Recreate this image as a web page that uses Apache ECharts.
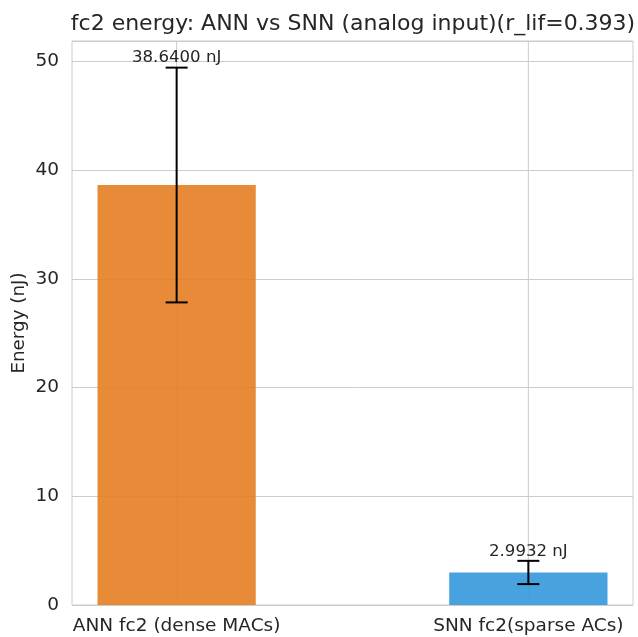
<!DOCTYPE html>
<html>
<head>
<meta charset="utf-8">
<script src="https://cdn.jsdelivr.net/npm/echarts@6/dist/echarts.min.js"></script>
<style>
html,body{margin:0;padding:0;background:#fff;}
#chart{width:638px;height:637px;}
</style>
</head>
<body>
<div id="chart"></div>
<script>
const categories = ['ANN fc2 (dense MACs)', 'SNN fc2(sparse ACs)'];
const energies = [38.64, 2.9932];
const errors = [10.8, 1.07];
const barColors = ['#e67e22', '#3498db'];
const yTicks = [0, 10, 20, 30, 40, 50];

const FONT = 'DejaVu Sans';
const TXT = '#262626';
const GRID = '#cccccc';
const BAR_W = 0.45;

const chart = echarts.init(document.getElementById('chart'), null, {renderer: 'canvas'});

const barData = categories.map((c, i) => [i, energies[i], errors[i]]);

const option = {
  animation: false,
  backgroundColor: '#ffffff',
  title: {
    text: 'fc2 energy: ANN vs SNN (analog input)(r_lif=0.393)',
    left: 348, top: 8, textAlign: 'center',
    textStyle: {fontFamily: FONT, fontSize: 22, fontWeight: 'normal', color: TXT}
  },
  grid: {left: 72, right: 5, top: 41, bottom: 32, show: true, borderColor: GRID, borderWidth: 1,
         containLabel: false, outerBoundsMode: 'none'},
  xAxis: {
    type: 'value', min: -0.2975, max: 1.2975,
    axisLine: {show: false}, axisTick: {show: false},
    splitLine: {show: false},
    axisLabel: {
      customValues: [0, 1],
      formatter: v => categories[Math.round(v)] || '',
      fontFamily: FONT, fontSize: 18.5, color: TXT, margin: 12
    }
  },
  yAxis: {
    type: 'value', min: 0, max: 51.89, interval: 10,
    name: 'Energy (nJ)', nameLocation: 'middle', nameGap: 44, nameMoveOverlap: false,
    nameTextStyle: {fontFamily: FONT, fontSize: 18.3, color: TXT},
    axisLine: {show: false}, axisTick: {show: false},
    splitLine: {show: true, lineStyle: {color: GRID, width: 1}},
    axisLabel: {
      showMaxLabel: false,
      formatter: v => (yTicks.indexOf(v) >= 0 ? String(v) : ''),
      fontFamily: FONT, fontSize: 18.5, color: TXT, margin: 13
    }
  },
  series: [
    {
      type: 'custom',
      silent: true,
      z: 1,
      data: categories.map((c, i) => [i]),
      renderItem: (params, api) => {
        const x = api.coord([api.value(0), 0])[0];
        const yTop = api.coord([0, 51.89])[1];
        const yBot = api.coord([0, 0])[1];
        return {type: 'line', shape: {x1: x, y1: yTop, x2: x, y2: yBot},
                style: {stroke: GRID, lineWidth: 1}};
      }
    },
    {
      type: 'custom',
      z: 2,
      data: barData,
      renderItem: (params, api) => {
        const i = api.value(0);
        const v = api.value(1);
        const e = api.value(2);
        const w = api.size([BAR_W, 0])[0];
        const p0 = api.coord([i, 0]);
        const p1 = api.coord([i, v]);
        const pt = api.coord([i, v + e]);
        const pb = api.coord([i, v - e]);
        const cap = 11;
        return {
          type: 'group',
          children: [
            {type: 'rect', shape: {x: p0[0] - w / 2, y: p1[1], width: w, height: p0[1] - p1[1]},
             style: {fill: barColors[i], opacity: 0.9}},
            {type: 'line', shape: {x1: pt[0], y1: pt[1], x2: pb[0], y2: pb[1]}, style: {stroke: '#000', lineWidth: 2}},
            {type: 'line', shape: {x1: pt[0] - cap, y1: pt[1], x2: pt[0] + cap, y2: pt[1]}, style: {stroke: '#000', lineWidth: 2}},
            {type: 'line', shape: {x1: pb[0] - cap, y1: pb[1], x2: pb[0] + cap, y2: pb[1]}, style: {stroke: '#000', lineWidth: 2}},
            {type: 'text', x: pt[0], y: pt[1] - 1,
             style: {text: v.toFixed(4) + ' nJ', align: 'center', verticalAlign: 'bottom',
                     fontFamily: FONT, fontSize: 16.6, fill: TXT}}
          ]
        };
      }
    }
  ]
};
chart.setOption(option);
</script>
</body>
</html>
